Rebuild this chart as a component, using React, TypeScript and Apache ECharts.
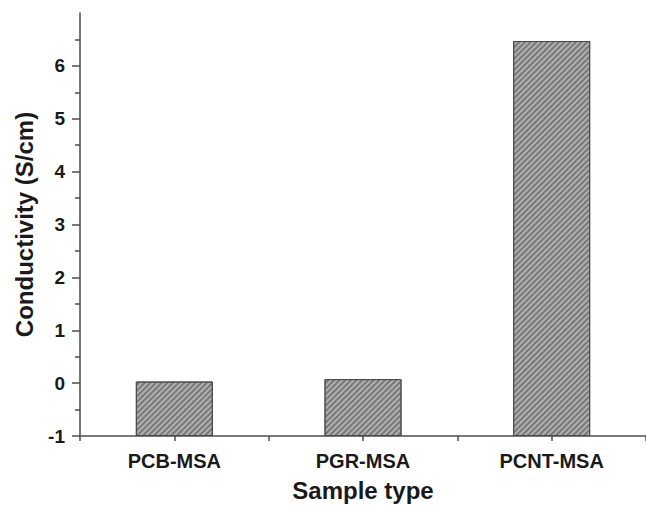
import React, { useEffect, useRef } from "react";
import * as echarts from "echarts";

const categories = ["PCB-MSA", "PGR-MSA", "PCNT-MSA"];
const conductivity = [0.03, 0.076, 6.47];
const yTickValues = [-1, 0, 1, 2, 3, 4, 5, 6];

export default function App() {
  const ref = useRef<HTMLDivElement>(null);
  useEffect(() => {
    if (!ref.current) return;
    const chart = echarts.init(ref.current, null, { renderer: "svg" });
    const font = "'Liberation Sans', Arial, Helvetica, sans-serif";
    const axisColor = "#4d4d4d";
    chart.setOption({
      animation: false,
      backgroundColor: "#ffffff",
      grid: { left: 80, top: 13, width: 575, bottom: 71, containLabel: false },
      xAxis: [
        {
          type: "category",
          data: categories,
          position: "bottom",
          name: "Sample type",
          nameLocation: "middle",
          nameGap: 42,
          nameTextStyle: { fontFamily: font, fontWeight: "bold", fontSize: 24, color: "#1a1a1a" },
          axisLine: { show: true, onZero: false, lineStyle: { color: axisColor, width: 1.5 } },
          axisTick: { show: true, alignWithLabel: true, length: 5, lineStyle: { color: axisColor, width: 1.5 } },
          axisLabel: { show: true, margin: 15, fontFamily: font, fontWeight: "bold", fontSize: 20, color: "#1a1a1a" },
          splitLine: { show: false },
        },
        {
          type: "category",
          data: categories,
          position: "bottom",
          axisLine: { show: false, onZero: false },
          axisTick: { show: true, length: 5, lineStyle: { color: axisColor, width: 1.5 } },
          axisLabel: { show: false },
          splitLine: { show: false },
        },
      ],
      yAxis: {
        type: "value",
        min: -1,
        max: 7,
        interval: 1,
        startValue: -1,
        name: "Conductivity (S/cm)",
        nameLocation: "middle",
        nameGap: 44,
        nameRotate: 90,
        nameTextStyle: { fontFamily: font, fontWeight: "bold", fontSize: 24, color: "#1a1a1a" },
        axisLine: { show: true, onZero: false, lineStyle: { color: axisColor, width: 1.5 } },
        axisTick: {
          show: true,
          length: 8,
          customValues: yTickValues,
          lineStyle: { color: axisColor, width: 1.5 },
        },
        minorTick: { show: true, splitNumber: 2, length: 5, lineStyle: { color: axisColor, width: 1.5 } },
        axisLabel: {
          show: true,
          margin: 15,
          customValues: yTickValues,
          fontFamily: font,
          fontWeight: "bold",
          fontSize: 19,
          color: "#1a1a1a",
        },
        splitLine: { show: false },
        minorSplitLine: { show: false },
      },
      series: [
        {
          type: "bar",
          xAxisIndex: 0,
          data: conductivity,
          barWidth: 77,
          itemStyle: {
            color: "#b0b0b0",
            borderColor: "#4a4a4a",
            borderWidth: 1,
            decal: {
              symbol: "rect",
              symbolSize: 1,
              dashArrayX: [1, 0],
              dashArrayY: [1.2, 1.9],
              rotation: -Math.PI / 4,
              color: "rgba(90,90,90,0.65)",
            },
          },
        },
      ],
    });
    return () => chart.dispose();
  }, []);
  return <div ref={ref} style={{ position: "fixed", left: 0, top: 0, width: 646, height: 507 }} />;
}
